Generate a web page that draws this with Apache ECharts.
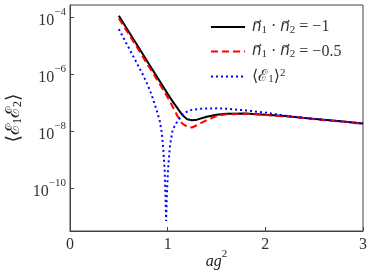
<!DOCTYPE html>
<html>
<head>
<meta charset="utf-8">
<script src="https://cdn.jsdelivr.net/npm/echarts@6/dist/echarts.min.js"></script>
<style>html,body{margin:0;padding:0;background:#fff;}#c{width:374px;height:279px;}</style>
</head>
<body>
<div id="c"></div>
<script>
// x values (a g^2)
var xBlackRed = [0.5,0.6,0.7,0.8,0.9,1.0,1.05,1.1,1.15,1.2,1.25,1.3,1.4,1.5,1.6,1.8,2.0,2.2,2.4,2.6,2.8,3.0];
var blackValues = [1.17e-4,3.3e-5,9.3e-6,2.6e-6,7.4e-7,2.1e-7,1.15e-7,6.6e-8,3.8e-8,2.7e-8,2.5e-8,2.6e-8,3.3e-8,3.9e-8,4.2e-8,4.3e-8,3.9e-8,3.5e-8,3.0e-8,2.57e-8,2.24e-8,1.9e-8];
var redValues = [9.5e-5,2.7e-5,7.6e-6,2.1e-6,5.9e-7,1.58e-7,7.6e-8,3.5e-8,1.9e-8,1.45e-8,1.38e-8,1.66e-8,2.5e-8,3.5e-8,4.0e-8,4.2e-8,3.8e-8,3.4e-8,2.95e-8,2.5e-8,2.2e-8,1.86e-8];
var xBlue = [0.5,0.6,0.7,0.75,0.8,0.85,0.9,0.92,0.94,0.955,0.968,0.978,0.984,0.99,1.003,1.024,1.051,1.08,1.1,1.16,1.23,1.33,1.5,1.6,1.8,2.0,2.2,2.4,2.6,2.8,3.0];
var blueValues = [3.98e-5,8.9e-6,2.0e-6,9.3e-7,4.0e-7,1.41e-7,4.0e-8,2.24e-8,8.9e-9,2.5e-9,5.0e-10,5.0e-11,7.1e-12,4.0e-11,4.4e-10,3.3e-9,1.12e-8,1.78e-8,2.29e-8,4.3e-8,5.6e-8,6.3e-8,6.5e-8,6.3e-8,5.5e-8,4.6e-8,3.6e-8,3.0e-8,2.57e-8,2.19e-8,1.9e-8];
var xTicks = [0,1,2,3];
var yTickValues = [1e-10,1e-8,1e-6,1e-4];
var yTickExponents = ['−10','−8','−6','−4'];
var seriesNames = ['black','red','blue'];

function pairs(xs, ys){ return xs.map(function(x,i){ return [x, ys[i]]; }); }

var serif = 'Liberation Serif, DejaVu Serif, serif';
var chart = echarts.init(document.getElementById('c'), null, {renderer:'canvas'});
chart.setOption({
  animation:false,
  grid:{left:70, right:11, top:5, bottom:48, containLabel:false, outerBoundsMode:'none',
    show:true, borderColor:'#444', borderWidth:1, backgroundColor:'transparent'},
  legend:{
    left:205, top:14, orient:'vertical', itemWidth:34, itemHeight:14, itemGap:8,
    data:seriesNames,
    itemStyle:{opacity:0},
    formatter:function(n){
      if(n==='black') return '{v|n\u20D7}{sub|1} · {v|n\u20D7}{sub|2} = −1';
      if(n==='red') return '{v|n\u20D7}{sub|1} · {v|n\u20D7}{sub|2} = −0.5';
      return '⟨ℰ{sub|1}⟩{sup|2}';
    },
    textStyle:{fontFamily:serif, fontSize:16, color:'#333', padding:[0,0,0,2],
      rich:{
        v:{fontFamily:'DejaVu Sans', fontStyle:'italic', fontSize:15, color:'#333'},
        sub:{fontFamily:serif, fontSize:11, color:'#333', verticalAlign:'bottom', padding:[6,0,0,0]},
        sup:{fontFamily:serif, fontSize:11, color:'#333', verticalAlign:'top'}
      }}
  },
  xAxis:{
    type:'value', min:0, max:3, interval:1,
    name:'{i|ag}{s|2}', nameLocation:'middle', nameGap:18, nameMoveOverlap:false,
    nameTextStyle:{rich:{
      i:{fontFamily:serif, fontStyle:'italic', fontSize:16, color:'#222', padding:[5,0,0,0], verticalAlign:'bottom'},
      s:{fontFamily:serif, fontSize:11, color:'#222', verticalAlign:'top'}
    }},
    axisLine:{show:true, lineStyle:{color:'#444', width:1}},
    axisTick:{show:true, inside:true, length:4, lineStyle:{color:'#444'}},
    axisLabel:{fontFamily:serif, fontSize:16, color:'#333', margin:6,
      formatter:function(v){ return xTicks.indexOf(v)>=0 ? String(v) : ''; }},
    splitLine:{show:false}
  },
  yAxis:{
    type:'log', logBase:10, min:3.16e-12, max:2.8e-4,
    name:'⟨ℰ{s|1}ℰ{s|2}⟩', nameLocation:'middle', nameGap:46, nameRotate:90, nameMoveOverlap:false,
    nameTextStyle:{fontFamily:serif, fontSize:19, color:'#222',
      rich:{s:{fontFamily:serif, fontSize:12, color:'#222', verticalAlign:'bottom', padding:[8,0,0,0]}}},
    axisLine:{show:true, lineStyle:{color:'#444', width:1}},
    axisTick:{show:true, inside:true, length:4, lineStyle:{color:'#444'}, customValues:yTickValues},
    minorTick:{show:false},
    axisLabel:{show:true, margin:4, customValues:yTickValues,
      formatter:function(v){
        var i = -1;
        for (var k=0;k<yTickValues.length;k++){ if (Math.abs(Math.log10(v)-Math.log10(yTickValues[k]))<0.01) i=k; }
        if (i<0) return '';
        return '{b|10}{s|' + yTickExponents[i] + '}';
      },
      rich:{
        b:{fontFamily:serif, fontSize:16, color:'#333', verticalAlign:'bottom', padding:[6,0,0,0]},
        s:{fontFamily:serif, fontSize:11, color:'#333', verticalAlign:'top'}
      }},
    splitLine:{show:false}
  },
  series:[
    {name:'black', type:'line', data:pairs(xBlackRed, blackValues), showSymbol:false, symbol:'none',
      lineStyle:{color:'#000', width:2}, itemStyle:{color:'#000'}, z:3},
    {name:'red', type:'line', data:pairs(xBlackRed, redValues), showSymbol:false, symbol:'none',
      lineStyle:{color:'#ff0000', width:2, type:[7,4]}, itemStyle:{color:'#ff0000'}, z:4},
    {name:'blue', type:'line', data:pairs(xBlue, blueValues), showSymbol:false, symbol:'none',
      lineStyle:{color:'#0000ff', width:2, type:[2,3]}, itemStyle:{color:'#0000ff'}, z:5}
  ]
});
</script>
</body>
</html>
